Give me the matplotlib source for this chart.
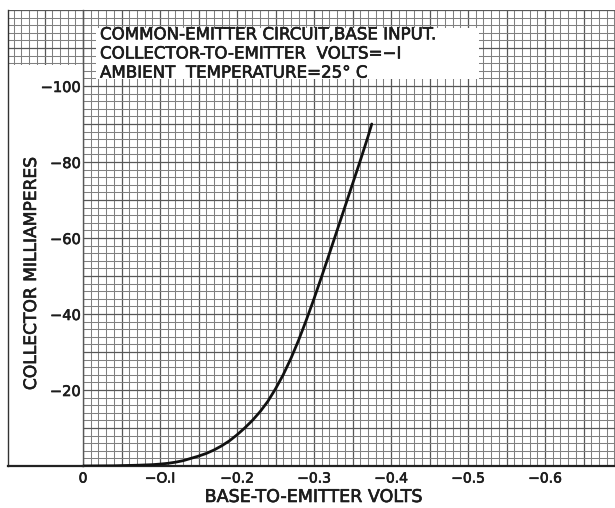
import numpy as np
import matplotlib
matplotlib.use("Agg")
import matplotlib.pyplot as plt
import matplotlib.patheffects as pe
from matplotlib.patches import Rectangle
from matplotlib.lines import Line2D

# Transfer characteristic: base-to-emitter volts vs collector milliamperes
base_volts = [0.0, -0.04, -0.07, -0.09, -0.10, -0.11, -0.12, -0.13, -0.14,
              -0.15, -0.16, -0.17, -0.18, -0.19, -0.20, -0.21, -0.22, -0.23,
              -0.24, -0.25, -0.26, -0.27, -0.28, -0.29, -0.30, -0.31, -0.32,
              -0.33, -0.34, -0.35, -0.36, -0.37, -0.375]
collector_ma = [0.0, -0.05, -0.2, -0.35, -0.5, -0.7, -1.0, -1.4, -2.0,
                -2.6, -3.3, -4.2, -5.3, -6.6, -8.2, -10.0, -12.0, -14.3,
                -17.0, -20.3, -24.0, -28.3, -33.1, -38.4, -44.0, -49.9, -55.9,
                -62.0, -68.1, -74.2, -80.3, -86.6, -90.0]

x_ticks = [0, -0.1, -0.2, -0.3, -0.4, -0.5, -0.6]
x_tick_labels = ["0", "\u2212O.I", "\u22120.2", "\u22120.3", "\u22120.4", "\u22120.5", "\u22120.6"]
y_ticks = [-20, -40, -60, -80, -100]
y_tick_labels = ["\u221220", "\u221240", "\u221260", "\u221280", "\u2212100"]

title_lines = ["COMMON-EMITTER CIRCUIT,BASE INPUT.",
               "COLLECTOR-TO-EMITTER  VOLTS=\u2212I",
               "AMBIENT  TEMPERATURE=25\u00b0 C"]

plt.rcParams["font.family"] = ["DejaVu Sans"]

W, H = 615, 508
fig = plt.figure(figsize=(W / 100, H / 100), dpi=100)
fig.patch.set_facecolor("white")

INK = "#1c1c1c"
heavy = [pe.withStroke(linewidth=0.45, foreground=INK)]

def frac(x0, y0, x1, y1):
    return [x0 / W, 1 - y1 / H, (x1 - x0) / W, (y1 - y0) / H]

MINOR_C, MAJOR_C = "#808080", "#575757"

def draw_grid(ax, x0, x1, y0, y1):
    for v in np.arange(-70, 11):
        major = (v % 5 == 0)
        ax.axvline(v * 0.01, color=MAJOR_C if major else MINOR_C,
                   lw=0.9 if major else 0.75, zorder=0)
    for v in np.arange(-62, 1):
        major = (v % 5 == 0)
        ax.axhline(v * 2.0, color=MAJOR_C if major else MINOR_C,
                   lw=0.9 if major else 0.75, zorder=0)
    ax.set_xlim(x0, x1)
    ax.set_ylim(y0, y1)

px_per_volt = 770.0
px_per_ma = 3.8
x_left, x_right, y_top, y_bot = 83, 615, 10, 466

# top-left grid block above the label strip
axc = fig.add_axes(frac(8, y_top, x_left, 65))
draw_grid(axc, (x_left - 8) / px_per_volt, 0,
          -(y_bot - 65) / px_per_ma, -(y_bot - y_top) / px_per_ma)
axc.set_xticks([]); axc.set_yticks([])
for s in axc.spines.values():
    s.set_visible(False)

# main plot
ax = fig.add_axes(frac(x_left, y_top, x_right, y_bot))
draw_grid(ax, 0, -(x_right - x_left) / px_per_volt, 0, -(y_bot - y_top) / px_per_ma)
for s in ["top", "right"]:
    ax.spines[s].set_visible(False)
ax.spines["left"].set_color(MAJOR_C)
ax.spines["left"].set_linewidth(1.0)
ax.spines["bottom"].set_color("#222222")
ax.spines["bottom"].set_linewidth(1.6)

ax.plot(base_volts, collector_ma, color="#111111", lw=2.0, zorder=5,
        solid_capstyle="round", solid_joinstyle="round")

ax.set_xticks(x_ticks)
ax.set_xticklabels(x_tick_labels, fontsize=10, color=INK)
ax.set_yticks(y_ticks)
ax.set_yticklabels(y_tick_labels, fontsize=10.5, color=INK)
ax.tick_params(axis="x", length=0, pad=4)
ax.tick_params(axis="y", length=0, pad=1.5)
for lab in ax.get_xticklabels() + ax.get_yticklabels():
    lab.set_path_effects(heavy)

# outline of the label strip
fig.add_artist(Line2D([8 / W, 8 / W], [1 - y_top / H, 1 - y_bot / H],
                      color="#333333", lw=1.0))
fig.add_artist(Line2D([8 / W, x_left / W], [1 - y_bot / H, 1 - y_bot / H],
                      color="#222222", lw=1.6))

# caption block
ax.add_patch(Rectangle((96, H - 79), 383, 51, transform=None,
                       facecolor="white", edgecolor="none", zorder=6))
fig.text(100 / W, 1 - 53.5 / H, "\n".join(title_lines), fontsize=12,
         linespacing=1.08, color=INK, va="center", ha="left", zorder=7,
         path_effects=heavy)

fig.text(314 / W, 1 - 497 / H, "BASE-TO-EMITTER VOLTS", fontsize=12.6,
         color=INK, ha="center", va="center", path_effects=heavy)
fig.text(31 / W, 1 - 274 / H, "COLLECTOR MILLIAMPERES", fontsize=12.3,
         color=INK, ha="center", va="center", rotation=90, path_effects=heavy)

fig.savefig("out.png", dpi=100, facecolor="white")
